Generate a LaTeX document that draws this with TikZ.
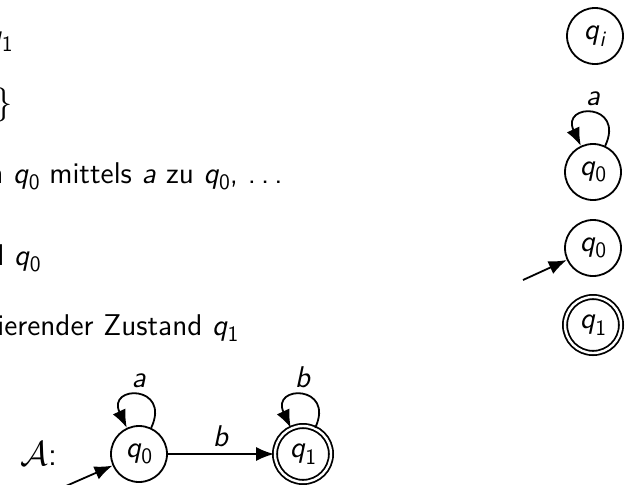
\documentclass[tikz,border=0pt]{standalone}
\usetikzlibrary{positioning, arrows.meta}

\newcommand{\zq}[1]{\textsl{q}\raisebox{-3.3pt}{\fontsize{11}{11}\selectfont #1}}
\newcommand{\zs}[1]{\textsl{#1}}
\newcommand{\punkte}{.\kern0.17em.\kern0.17em.}

\tikzset{
  zustand/.style={circle, draw, line width=0.9pt, minimum size=28pt, inner sep=0pt},
  endzustand/.style={zustand, double, double distance=1.2pt},
  pfeil/.style={line width=0.9pt, -{Latex[length=9pt, width=7pt]}},
  zeile/.style={anchor=base west, inner sep=0pt},
}

\begin{document}
\begin{tikzpicture}[x=0.5pt, y=0.5pt, font=\fontsize{15}{18}\selectfont\sffamily]
    \useasboundingbox (0,0) rectangle (630,484);
    \clip (0,0) rectangle (630,484);

    % Text lines (cut at the left)
    \node[zeile] (t1) at (-14, 439) {\zq{1}};
    \node[anchor=west, inner sep=0pt, font=\fontsize{18}{18}\selectfont] (t2) at (-5, 379) {$\}$};
    \node[zeile] (t3) at (-12, 301) {n \zq{0} mittels \zs{a} zu \zq{0}, \punkte};
    \node[zeile] (t4) at (-11, 219) {d \zq{0}};
    \node[zeile] (t5) at (-3, 149) {ierender Zustand \zq{1}};

    % Legend on the right
    \node[zustand] (qi) at (595, 448) {\zq{\textsl{i}}};
    \node[zustand] (la) at (593, 312) {\zq{0}};
    \node[zustand] (li) at (593, 236) {\zq{0}};
    \node[endzustand] (le) at (593, 159) {\zq{1}};
    \coordinate (li0) at (523, 204);
    \draw[pfeil] (la) to[out=65, in=115, looseness=5] node[above] {\zs{a}} (la);
    \draw[pfeil] (li0) -- (li);

    % Automaton A
    \node[zustand] (q0) at (139, 30) {\zq{0}};
    \node[endzustand] (q1) at (303, 30) {\zq{1}};
    \node[left=23pt of q0, font=\fontsize{17}{17}\selectfont] (aut) {$\mathcal{A}$\textsf{:}};
    \coordinate (q00) at (50, -9);
    \draw[pfeil] (q00) -- (q0);
    \draw[pfeil] (q0) -- node[above] {\zs{b}} (q1);
    \draw[pfeil] (q0) to[out=65, in=115, looseness=5] node[above] {\zs{a}} (q0);
    \draw[pfeil] (q1) to[out=65, in=115, looseness=5] node[above] {\zs{b}} (q1);
\end{tikzpicture}
\end{document}
